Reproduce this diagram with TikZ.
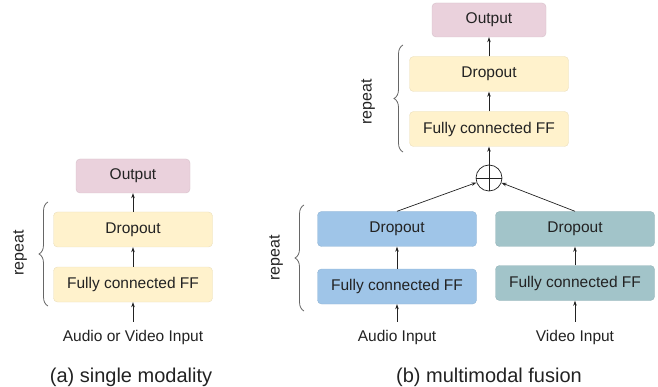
\documentclass[tikz,border=0pt]{standalone}
\usepackage{fontspec}
\setmainfont{Liberation Sans}
\usetikzlibrary{arrows.meta,decorations.pathreplacing}
\definecolor{outpink}{HTML}{EAD1DC}
\definecolor{ffyellow}{HTML}{FFF2CC}
\definecolor{audioblue}{HTML}{9FC5E8}
\definecolor{videoteal}{HTML}{A2C4C9}
\definecolor{inkgrey}{HTML}{222222}
\tikzset{
	block/.style={rounded corners=4pt, inner sep=0pt, minimum width=159pt, minimum height=35pt, line width=0.4pt, font=\fontsize{15.5}{18}\selectfont, text=inkgrey},
	outblock/.style={block, minimum width=114pt, minimum height=34pt, fill=outpink, draw=outpink!92!black},
	ffblock/.style={block, fill=ffyellow, draw=ffyellow!92!black},
	audioblock/.style={block, fill=audioblue, draw=audioblue!92!black},
	videoblock/.style={block, fill=videoteal, draw=videoteal!92!black},
	label/.style={font=\fontsize{15.5}{18}\selectfont, text=inkgrey, inner sep=2pt},
	caption/.style={font=\fontsize{20}{24}\selectfont, text=inkgrey},
	reptext/.style={font=\fontsize{16}{19}\selectfont, text=inkgrey, rotate=90},
	flow/.style={-{Stealth[length=5pt,width=3.5pt]}, line width=0.7pt, draw=inkgrey},
	rep/.style={decorate, decoration={brace, amplitude=9pt}, line width=0.8pt, draw=black!60},
}

\begin{document}
\begin{tikzpicture}[x=1pt, y=-1pt]
		%%%%% START %%%%%
		\useasboundingbox (0, 0) rectangle (658, 387);
		
		% (a) single modality
		\node[outblock] (lout) at (133, 176) {Output};
		\node[ffblock] (ldrop) at (133, 229.5) {Dropout};
		\node[ffblock] (lfc) at (133, 284.5) {Fully connected FF};
		\node[label] (lin) at (133, 337) {Audio or Video Input};
		\node[caption] (lcap) at (131, 377) {(a) single modality};
		
		\draw[flow, shorten <=6pt] (lin) -- (lfc);
		\draw[flow] (lfc) -- (ldrop);
		\draw[flow] (ldrop) -- (lout);
		
		\draw[rep] (48, 306) -- (48, 202);
		\node[reptext] (lrep) at (20, 253) {repeat};
		
		% (b) multimodal fusion
		\node[outblock] (mout) at (489, 20) {Output};
		\node[ffblock] (mdrop) at (489, 74) {Dropout};
		\node[ffblock] (mfc) at (489, 129) {Fully connected FF};
		\node[circle, draw=inkgrey, line width=0.7pt, minimum size=26pt, inner sep=0pt,
			path picture={\draw[inkgrey, line width=0.7pt] (path picture bounding box.north) -- (path picture bounding box.south)
				(path picture bounding box.west) -- (path picture bounding box.east);}] (plus) at (489, 178) {};
		
		\node[audioblock] (adrop) at (397, 229) {Dropout};
		\node[audioblock] (afc) at (397, 286.5) {Fully connected FF};
		\node[label] (ain) at (397, 337) {Audio Input};
		
		\node[videoblock] (vdrop) at (575, 229) {Dropout};
		\node[videoblock] (vfc) at (575, 283) {Fully connected FF};
		\node[label] (vin) at (575, 337) {Video Input};
		
		\node[caption] (mcap) at (489, 377) {(b) multimodal fusion};
		
		\draw[flow, shorten <=6pt] (ain) -- (afc);
		\draw[flow] (afc) -- (adrop);
		\draw[flow, shorten <=6pt] (vin) -- (vfc);
		\draw[flow] (vfc) -- (vdrop);
		\draw[flow] (adrop.north) -- (plus);
		\draw[flow] (vdrop.north) -- (plus);
		\draw[flow] (plus) -- (mfc);
		\draw[flow] (mfc) -- (mdrop);
		\draw[flow] (mdrop) -- (mout);
		
		\draw[rep] (304, 311) -- (304, 205);
		\node[reptext] (arep) at (276, 258) {repeat};
		\draw[rep] (403, 152) -- (403, 45);
		\node[reptext] (mrep) at (368, 102) {repeat};
		
		%%%%% END %%%%%
\end{tikzpicture}
\end{document}
